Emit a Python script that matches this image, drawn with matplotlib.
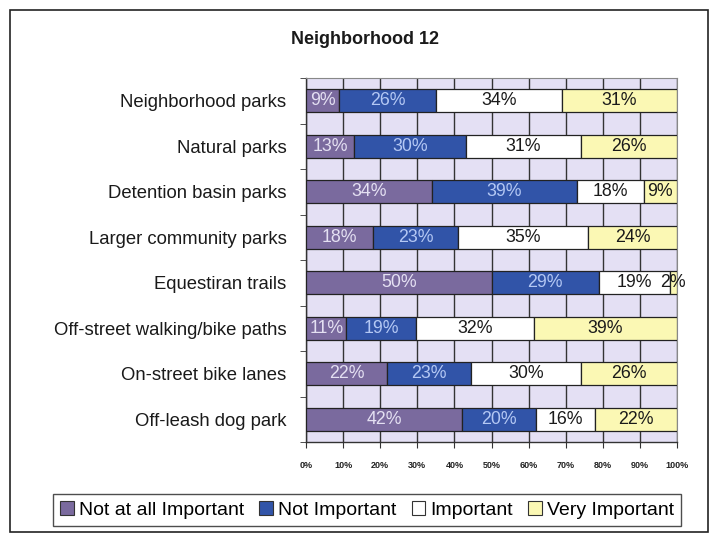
import matplotlib
matplotlib.use("Agg")
import matplotlib.pyplot as plt
import numpy as np
from matplotlib.patches import Rectangle, Patch

plt.rcParams['font.family'] = ['Liberation Sans', 'DejaVu Sans']

categories = ["Neighborhood parks", "Natural parks", "Detention basin parks",
              "Larger community parks", "Equestiran trails",
              "Off-street walking/bike paths", "On-street bike lanes",
              "Off-leash dog park"]
series_names = ["Not at all Important", "Not Important", "Important", "Very Important"]
not_at_all = [9, 13, 34, 18, 50, 11, 22, 42]
not_important = [26, 30, 39, 23, 29, 19, 23, 20]
important = [34, 31, 18, 35, 19, 32, 30, 16]
very_important = [31, 26, 9, 24, 2, 39, 26, 22]
x_ticks = [0, 10, 20, 30, 40, 50, 60, 70, 80, 90, 100]
x_tick_labels = [f"{t}%" for t in x_ticks]
title = "Neighborhood 12"

colors = ["#7a6a9e", "#3154a8", "#ffffff", "#fbf8b4"]
text_colors = ["#e4e0f2", "#b4c8f4", "#1a1a1a", "#1a1a1a"]

W, H = 717, 537
fig = plt.figure(figsize=(W / 100, H / 100), dpi=100)
fig.patch.set_facecolor("white")

# outer chart frame
fig.patches.append(Rectangle((10 / W, 1 - 532 / H), 698 / W, 522 / H,
                             transform=fig.transFigure, fill=False,
                             edgecolor="#222222", lw=1.2))

left, right, top, bottom = 306, 677, 78, 442
ax = fig.add_axes([left / W, 1 - bottom / H, (right - left) / W, (bottom - top) / H])
ax.set_facecolor("#e4e0f4")

data = np.array([not_at_all, not_important, important, very_important], dtype=float)
totals = data.sum(axis=0)
norm = data / totals * 100
y = np.arange(len(categories))
lefts = np.zeros(len(categories))
for i in range(4):
    ax.barh(y, norm[i], left=lefts, height=0.5, color=colors[i],
            edgecolor="#222222", linewidth=0.9, zorder=3)
    for j in range(len(categories)):
        ax.text(lefts[j] + norm[i][j] / 2, y[j], f"{int(data[i][j])}%",
                ha="center", va="center", fontsize=12.8,
                color=text_colors[i], zorder=4)
    lefts += norm[i]

ax.set_xlim(0, 100)
ax.set_ylim(len(categories) - 0.5, -0.5)
ax.set_xticks(x_ticks)
ax.set_xticklabels(x_tick_labels, fontsize=6.5, fontweight="bold", color="#222222")
ax.grid(axis="x", color="#333333", linewidth=1.0, zorder=1)
ax.set_axisbelow(True)
ax.set_yticks(y)
ax.set_yticklabels(categories, fontsize=13.3, color="#1a1a1a")
ax.set_yticks(np.arange(len(categories) + 1) - 0.5, minor=True)
ax.tick_params(axis="y", which="major", length=0, pad=14)
ax.tick_params(axis="y", which="minor", length=4, direction="out", color="#333333")
ax.tick_params(axis="x", length=4, direction="out", pad=10, color="#333333")
for s in ["left", "bottom"]:
    ax.spines[s].set_color("#333333")
    ax.spines[s].set_linewidth(1.0)
for s in ["top", "right"]:
    ax.spines[s].set_color("#888888")
    ax.spines[s].set_linewidth(0.8)

fig.text(365 / W, 1 - 40 / H, title, ha="center", va="center",
         fontsize=13, fontweight="bold", color="#1a1a1a")

handles = [Patch(facecolor=c, edgecolor="#333333", linewidth=0.8) for c in colors]
leg = fig.legend(handles, series_names, loc="center",
                 bbox_to_anchor=(367 / W, 1 - 510 / H), ncol=4, fontsize=14,
                 frameon=True, fancybox=False, handlelength=0.7, handleheight=0.7,
                 handletextpad=0.25, columnspacing=0.8, borderpad=0.35)
leg.get_frame().set_edgecolor("#222222")
leg.get_frame().set_linewidth(1.0)

fig.savefig("out.png", dpi=100)
